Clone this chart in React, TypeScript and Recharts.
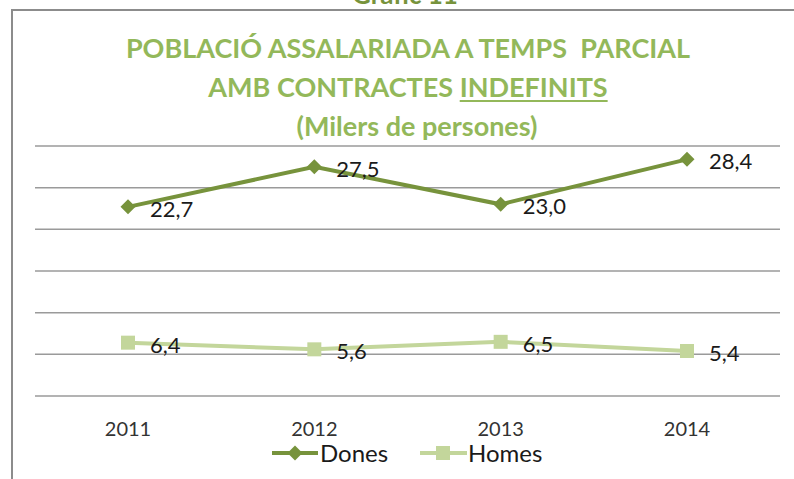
import React from "react";
import {
  LineChart,
  Line,
  XAxis,
  YAxis,
  CartesianGrid,
  Legend,
  LabelList,
} from "recharts";

const years = ["2011", "2012", "2013", "2014"];
const dones = [22.7, 27.5, 23.0, 28.4];
const homes = [6.4, 5.6, 6.5, 5.4];
const yTicks = [0, 5, 10, 15, 20, 25, 30];

const data = years.map((year, i) => ({ year, Dones: dones[i], Homes: homes[i] }));

const DARK = "#77933C";
const LIGHT = "#C3D69B";
const TITLE = "#93B85A";
const FONT = "Lato, 'Open Sans', sans-serif";

const fmt = (v: number) => v.toFixed(1).replace(".", ",");

const Diamond = (props: any) => {
  const { cx, cy, fill } = props;
  if (cx == null || cy == null) return null;
  const r = 7.5;
  return (
    <polygon
      points={`${cx},${cy - r} ${cx + r},${cy} ${cx},${cy + r} ${cx - r},${cy}`}
      fill={fill}
    />
  );
};

const Square = (props: any) => {
  const { cx, cy, fill } = props;
  if (cx == null || cy == null) return null;
  return <rect x={cx - 7} y={cy - 7} width={14} height={14} fill={fill} />;
};

const ValueLabel = (props: any) => {
  const { x, y, value } = props;
  return (
    <text x={x + 22} y={y + 10} fontSize={22} fontFamily={FONT} fill="#1a1a1a">
      {fmt(value)}
    </text>
  );
};

const LegendBox = () => (
  <div style={{ position: "relative", height: 30, width: 794, fontFamily: FONT }}>
    <svg width={48} height={30} style={{ position: "absolute", left: 271, top: 0 }}>
      <line x1={1} y1={15} x2={47} y2={15} stroke={DARK} strokeWidth={4} />
      <polygon points="24,7.5 31.5,15 24,22.5 16.5,15" fill={DARK} />
    </svg>
    <span style={{ position: "absolute", left: 320, top: 0, fontSize: 24, lineHeight: "30px", color: "#1a1a1a" }}>
      Dones
    </span>
    <svg width={48} height={30} style={{ position: "absolute", left: 420, top: 0 }}>
      <line x1={0} y1={15} x2={47} y2={15} stroke={LIGHT} strokeWidth={4} />
      <rect x={16} y={8} width={14} height={14} fill={LIGHT} />
    </svg>
    <span style={{ position: "absolute", left: 468, top: 0, fontSize: 24, lineHeight: "30px", color: "#1a1a1a" }}>
      Homes
    </span>
  </div>
);

const titleLine: React.CSSProperties = {
  position: "absolute",
  left: 11,
  width: 794,
  textAlign: "center",
  fontFamily: FONT,
  fontWeight: 700,
  fontSize: 27,
  lineHeight: "30px",
  color: TITLE,
  whiteSpace: "pre",
};

export default function App() {
  return (
    <div style={{ position: "absolute", left: 0, top: 0, width: 794, height: 479, background: "#fff", overflow: "hidden" }}>
      <div style={{ ...titleLine, left: 8, top: -21, fontSize: 26, color: DARK }}>Gràfic 11</div>
      <div
        style={{
          position: "absolute",
          left: 11,
          top: 9,
          width: 800,
          height: 480,
          borderLeft: "2px solid #8c8c8c",
          borderTop: "2px solid #8c8c8c",
        }}
      />
      <div style={{ ...titleLine, top: 33 }}>POBLACIÓ ASSALARIADA A TEMPS  PARCIAL</div>
      <div style={{ ...titleLine, top: 72 }}>
        AMB CONTRACTES <span style={{ textDecoration: "underline", textDecorationThickness: 2, textUnderlineOffset: 3 }}>INDEFINITS</span>
      </div>
      <div style={{ ...titleLine, top: 111, left: 20 }}>(Milers de persones)</div>
      <div style={{ position: "absolute", left: 0, top: 0 }}>
        <LineChart
          width={794}
          height={479}
          data={data}
          margin={{ top: 146, right: 14, bottom: 11, left: 35 }}
        >
          <CartesianGrid vertical={false} stroke="#9a9a9a" strokeWidth={1.5} />
          <XAxis
            dataKey="year"
            axisLine={false}
            tickLine={false}
            padding={{ left: 93, right: 93 }}
            height={42}
            tickMargin={20}
            tick={{ fontSize: 20, fontFamily: FONT, fill: "#333" }}
          />
          <YAxis hide domain={[0, 30]} ticks={yTicks} />
          <Legend verticalAlign="bottom" content={<LegendBox />} wrapperStyle={{ left: 0, width: 794 }} />
          <Line
            dataKey="Dones"
            stroke={DARK}
            strokeWidth={4}
            fill={DARK}
            dot={<Diamond fill={DARK} />}
            activeDot={false}
            isAnimationActive={false}
          >
            <LabelList dataKey="Dones" content={<ValueLabel />} />
          </Line>
          <Line
            dataKey="Homes"
            stroke={LIGHT}
            strokeWidth={4}
            fill={LIGHT}
            dot={<Square fill={LIGHT} />}
            activeDot={false}
            isAnimationActive={false}
          >
            <LabelList dataKey="Homes" content={<ValueLabel />} />
          </Line>
        </LineChart>
      </div>
    </div>
  );
}
